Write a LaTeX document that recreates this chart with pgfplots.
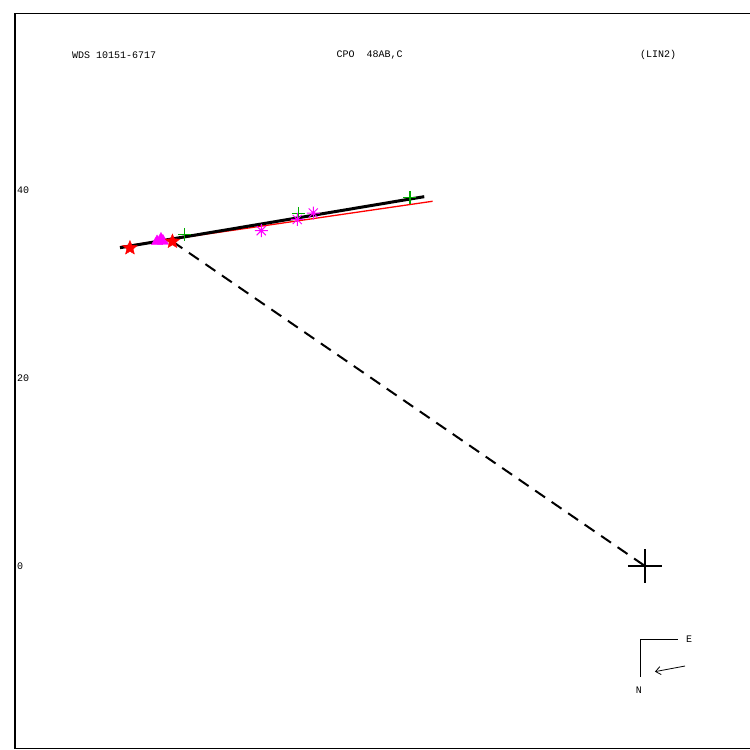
\documentclass[border=0pt]{standalone}
\usepackage{fontspec}
\setmonofont{Liberation Mono}
\usepackage{pgfplots}
\pgfplotsset{compat=1.18}
\usetikzlibrary{arrows.meta}

\definecolor{plotgreen}{RGB}{0,170,0}
\definecolor{plotmag}{RGB}{255,0,255}
\definecolor{plotred}{RGB}{255,0,0}

\pgfdeclareplotmark{fstar}{%
  \pgfpathmoveto{\pgfpointpolar{90}{\pgfplotmarksize}}%
  \pgfpathlineto{\pgfpointpolar{126}{0.45\pgfplotmarksize}}%
  \pgfpathlineto{\pgfpointpolar{162}{\pgfplotmarksize}}%
  \pgfpathlineto{\pgfpointpolar{198}{0.45\pgfplotmarksize}}%
  \pgfpathlineto{\pgfpointpolar{234}{\pgfplotmarksize}}%
  \pgfpathlineto{\pgfpointpolar{270}{0.45\pgfplotmarksize}}%
  \pgfpathlineto{\pgfpointpolar{306}{\pgfplotmarksize}}%
  \pgfpathlineto{\pgfpointpolar{342}{0.45\pgfplotmarksize}}%
  \pgfpathlineto{\pgfpointpolar{18}{\pgfplotmarksize}}%
  \pgfpathlineto{\pgfpointpolar{54}{0.45\pgfplotmarksize}}%
  \pgfpathclose
  \pgfusepathqfillstroke
}
\pgfdeclareplotmark{ast8}{%
  \pgfpathmoveto{\pgfpointpolar{0}{\pgfplotmarksize}}%
  \pgfpathlineto{\pgfpointpolar{180}{\pgfplotmarksize}}%
  \pgfpathmoveto{\pgfpointpolar{90}{\pgfplotmarksize}}%
  \pgfpathlineto{\pgfpointpolar{270}{\pgfplotmarksize}}%
  \pgfpathmoveto{\pgfpointpolar{45}{\pgfplotmarksize}}%
  \pgfpathlineto{\pgfpointpolar{225}{\pgfplotmarksize}}%
  \pgfpathmoveto{\pgfpointpolar{135}{\pgfplotmarksize}}%
  \pgfpathlineto{\pgfpointpolar{315}{\pgfplotmarksize}}%
  \pgfusepathqstroke
  \pgfpathcircle{\pgfpointorigin}{0.3\pgfplotmarksize}%
  \pgfusepathqfill
}

\begin{document}
\begin{tikzpicture}
\begin{axis}[
  at={(15pt,2pt)}, anchor=south west,
  scale only axis, width=736pt, height=734pt,
  xmin=-67.02, xmax=11.28, ymin=-19.36, ymax=58.72,
  axis line style={line width=1pt},
  xtick=\empty, ytick={0,20,40},
  major tick length=0pt,
  /pgf/number format/assume math mode=true,
  yticklabel style={anchor=west, inner sep=0pt, xshift=2pt, font=\ttfamily\fontsize{10}{12}\selectfont},
  clip=false,
]
% fitted lines
\addplot[plotred, line width=1.3pt] coordinates {(-55.85,33.97) (-22.59,38.80)};
\addplot[black, line width=3pt] coordinates {(-55.85,33.86) (-23.48,39.29)};
% dashed line to primary
\addplot[black, line width=2pt, dash pattern=on 12pt off 8pt] coordinates {(-50.27,34.52) (0,0)};
% primary
\addplot[black, line width=2pt, only marks, mark=+, mark size=17pt] coordinates {(0,0)};
% magenta triangles
\addplot[plotmag, only marks, mark=triangle*, mark size=6.5pt, mark options={fill=plotmag}] coordinates {(-51.91,34.52) (-51.49,34.79) (-51.28,34.57)};
% red stars
\addplot[plotred, only marks, mark=fstar, mark size=7.5pt, mark options={fill=plotred}] coordinates {(-54.79,33.83) (-50.27,34.52)};
% green plus
\addplot[plotgreen, line width=1.3pt, only marks, mark=+, mark size=6.5pt] coordinates {(-49.01,35.29) (-36.88,37.52) (-25.00,39.22)};
% magenta asterisks
\addplot[plotmag, line width=1pt, only marks, mark=ast8, mark size=6.5pt] coordinates {(-40.82,35.67) (-36.99,36.86) (-35.29,37.55)};
% header texts
\node[anchor=west, inner sep=0pt, font=\ttfamily\fontsize{10}{12}\selectfont] at (axis cs:-60.96,54.36) {WDS 10151-6717};
\node[anchor=west, inner sep=0pt, font=\ttfamily\fontsize{10}{12}\selectfont] at (axis cs:-32.82,54.36) {CPO\ \ 48AB,C};
\node[anchor=west, inner sep=0pt, font=\ttfamily\fontsize{10}{12}\selectfont] at (axis cs:-0.53,54.36) {(LIN2)};
% compass
\draw[line width=1pt] (axis cs:-0.50,-11.78) -- (axis cs:-0.50,-7.77) -- (axis cs:3.48,-7.77);
\draw[line width=0.8pt, -{Straight Barb[length=5pt,width=8pt]}] (axis cs:4.26,-10.64) -- (axis cs:1.06,-11.24);
\node[anchor=west, inner sep=0pt, font=\ttfamily\fontsize{10}{12}\selectfont] at (axis cs:4.36,-7.77) {E};
\node[inner sep=0pt, font=\ttfamily\fontsize{10}{12}\selectfont] at (axis cs:-0.64,-13.19) {N};
\end{axis}
\pgfresetboundingbox
\useasboundingbox (0,0) rectangle (750pt,750pt);
\end{tikzpicture}
\end{document}
